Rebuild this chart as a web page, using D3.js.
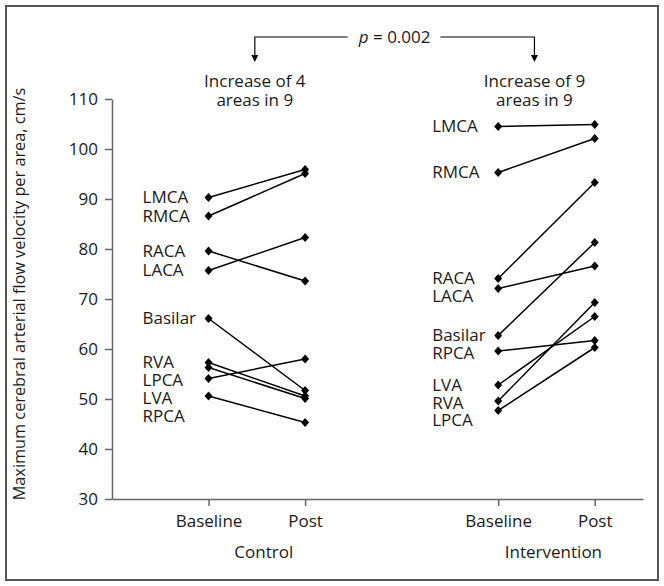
<!DOCTYPE html>
<html>
<head>
<meta charset="utf-8">
<script src="https://cdn.jsdelivr.net/npm/d3@7"></script>
<style>
  body { margin: 0; background: #fff; }
  text { font-family: "Open Sans", "Noto Sans", sans-serif; fill: #1a1a1a; }
</style>
</head>
<body>
<script>
// values (cm/s)
const controlAreas = ["LMCA", "RMCA", "RACA", "LACA", "Basilar", "RVA", "LPCA", "LVA", "RPCA"];
const controlBaseline = [90.3, 86.6, 79.6, 75.7, 66.1, 57.3, 56.3, 54.1, 50.6];
const controlPost = [95.9, 95.1, 73.6, 82.3, 51.7, 50.6, 50.1, 58.0, 45.3];

const interventionAreas = ["LMCA", "RMCA", "RACA", "LACA", "Basilar", "RPCA", "LVA", "RVA", "LPCA"];
const interventionBaseline = [104.5, 95.3, 74.1, 72.1, 62.7, 59.6, 52.8, 49.6, 47.7];
const interventionPost = [104.9, 102.1, 93.3, 76.6, 81.3, 61.7, 66.5, 69.3, 60.3];

const timeLabels = ["Baseline", "Post", "Baseline", "Post"];
const timePositions = [0, 1, 3, 4];
const groupNames = ["Control", "Intervention"];
const groupHeaders = [["Increase of 4", "areas in 9"], ["Increase of 9", "areas in 9"]];
const pValue = "0.002";
const yTicks = [30, 40, 50, 60, 70, 80, 90, 100, 110];
const yTitle = "Maximum cerebral arterial flow velocity per area, cm/s";

const W = 664, H = 586;
const FS = 17;
let margin = { top: 99, right: 21, bottom: 87, left: 112 },
  width = W - margin.left - margin.right,
  height = H - margin.top - margin.bottom;

const root = d3.select("body").append("svg").attr("width", W).attr("height", H);

// figure frame
root.append("rect")
  .attr("x", 6).attr("y", 6)
  .attr("width", W - 12).attr("height", H - 12)
  .attr("fill", "none").attr("stroke", "#555").attr("stroke-width", 2);

const svg = root.append("g")
  .attr("transform", "translate(" + margin.left + "," + margin.top + ")");

const x = d3.scaleLinear().domain([-1, 4.5]).range([0, width]);
const y = d3.scaleLinear().domain([30, 110]).range([height, 0]);

// axes
const xAxis = svg.append("g")
  .attr("transform", "translate(0," + height + ")")
  .call(d3.axisBottom(x).tickValues(timePositions).tickSize(7).tickSizeOuter(0)
    .tickFormat((d, i) => timeLabels[i]));
const yAxis = svg.append("g")
  .call(d3.axisLeft(y).tickValues(yTicks).tickSize(7).tickSizeOuter(0).tickPadding(7));

[xAxis, yAxis].forEach((a) => {
  a.selectAll("path, line").attr("stroke", "#666").attr("stroke-width", 1.5);
  a.selectAll("text").attr("font-size", FS).attr("fill", "#1a1a1a")
    .style("font-family", '"Open Sans", sans-serif');
});
xAxis.selectAll("text").attr("dy", "1.05em");

root.append("text")
  .attr("transform", "translate(19," + (margin.top + height / 2 - 5) + ") rotate(-90)")
  .attr("text-anchor", "middle").attr("dy", "0.35em")
  .attr("font-size", 16.3)
  .text(yTitle);

// group names under the axis
const groupCenters = [(x(0) + x(1)) / 2 + 7, (x(3) + x(4)) / 2 + 7];
groupNames.forEach((g, i) => {
  svg.append("text")
    .attr("x", groupCenters[i]).attr("y", height + 53)
    .attr("text-anchor", "middle").attr("dy", "0.35em")
    .attr("font-size", FS).text(g);
});

const diamond = (cx, cy) =>
  "M" + cx + "," + (cy - 4.5) + "L" + (cx + 4) + "," + cy +
  "L" + cx + "," + (cy + 4.5) + "L" + (cx - 4) + "," + cy + "Z";

function drawGroup(areas, baseline, post, x0) {
  const rows = areas.map((a, i) => ({ area: a, b: baseline[i], p: post[i] }));
  const g = svg.append("g");

  g.selectAll("line.pair").data(rows).join("line")
    .attr("x1", x(x0)).attr("x2", x(x0 + 1))
    .attr("y1", (d) => y(d.b)).attr("y2", (d) => y(d.p))
    .attr("stroke", "#000").attr("stroke-width", 1.5);

  g.selectAll("path.b").data(rows).join("path")
    .attr("d", (d) => diamond(x(x0), y(d.b))).attr("fill", "#000");
  g.selectAll("path.p").data(rows).join("path")
    .attr("class", "p")
    .attr("d", (d) => diamond(x(x0 + 1), y(d.p))).attr("fill", "#000");

  // labels stacked down so they don't overlap
  const sorted = rows.slice().sort((a, b) => b.b - a.b);
  let prev = -Infinity;
  sorted.forEach((d) => {
    d.ly = Math.max(y(d.b), prev + 17.7);
    prev = d.ly;
  });
  g.selectAll("text").data(sorted).join("text")
    .attr("x", x(x0) - 66).attr("y", (d) => d.ly)
    .attr("dy", "0.35em").attr("font-size", FS)
    .text((d) => d.area);
}

drawGroup(controlAreas, controlBaseline, controlPost, 0);
drawGroup(interventionAreas, interventionBaseline, interventionPost, 3);

// headers and p-value bracket
const headX = [(x(0) + x(1)) / 2 - 2 + margin.left, (x(3) + x(4)) / 2 - 12 + margin.left];
headX.forEach((hx, i) => {
  groupHeaders[i].forEach((t, j) => {
    root.append("text")
      .attr("x", hx).attr("y", 81 + j * 19)
      .attr("text-anchor", "middle").attr("dy", "0.35em")
      .attr("font-size", FS).text(t);
  });
});

const bracketY = 37;
const pText = root.append("text")
  .attr("x", (headX[0] + headX[1]) / 2).attr("y", bracketY)
  .attr("text-anchor", "middle").attr("dy", "0.35em").attr("font-size", FS);
pText.append("tspan").attr("font-style", "italic").text("p");
pText.append("tspan").text(" = " + pValue);
const box = pText.node().getBBox();

const bracket = root.append("g").attr("stroke", "#000").attr("stroke-width", 1.2).attr("fill", "none");
bracket.append("path")
  .attr("d", "M" + (box.x - 10) + "," + bracketY + "H" + headX[0] + "V" + 56);
bracket.append("path")
  .attr("d", "M" + (box.x + box.width + 10) + "," + bracketY + "H" + headX[1] + "V" + 56);
headX.forEach((hx) => {
  root.append("path")
    .attr("d", "M" + (hx - 3.5) + ",55L" + (hx + 3.5) + ",55L" + hx + ",62Z")
    .attr("fill", "#000");
});
</script>
</body>
</html>
